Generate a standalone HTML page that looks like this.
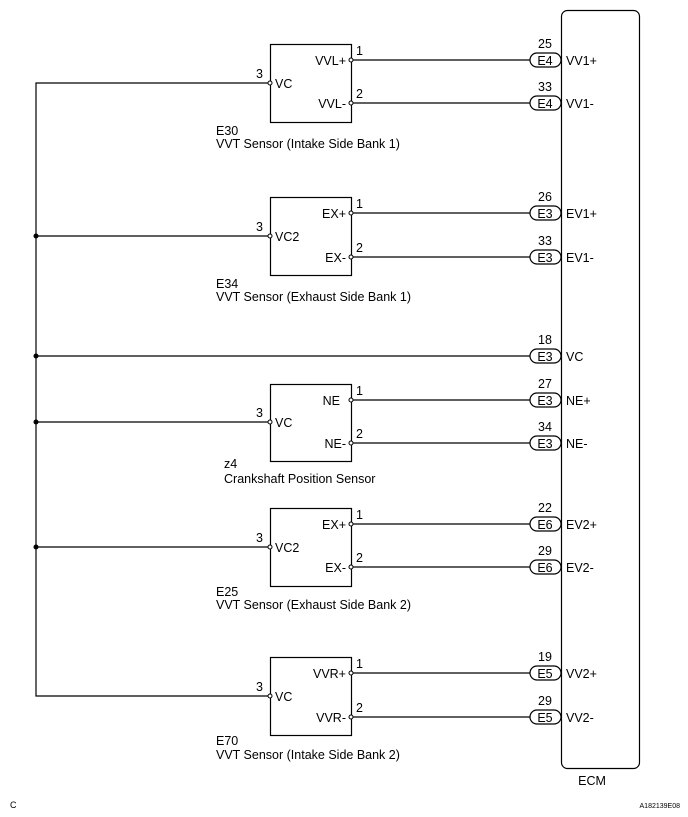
<!DOCTYPE html>
<html><head><meta charset="utf-8"><style>
html,body{margin:0;padding:0;background:#fff}
svg{display:block}
text{font-family:"Liberation Sans",Arial,sans-serif;font-size:12.5px;fill:#000}
</style></head><body>
<svg width="688" height="817" viewBox="0 0 688 817" xmlns="http://www.w3.org/2000/svg">
<g stroke="#000" stroke-width="1.2" fill="none">
<rect x="561.5" y="10.5" width="78" height="758" rx="6"/>
<polyline points="270,83 36,83 36,696 270,696"/>
<line x1="36" y1="236" x2="270" y2="236"/>
<line x1="36" y1="356" x2="530" y2="356"/>
<line x1="36" y1="422" x2="270" y2="422"/>
<line x1="36" y1="547" x2="270" y2="547"/>
<rect x="270.5" y="44.5" width="81" height="78"/>
<rect x="270.5" y="197.5" width="81" height="78"/>
<rect x="270.5" y="384.5" width="81" height="77"/>
<rect x="270.5" y="508.5" width="81" height="78"/>
<rect x="270.5" y="657.5" width="81" height="78"/>
<line x1="351" y1="60" x2="530" y2="60"/>
<line x1="351" y1="103" x2="530" y2="103"/>
<line x1="351" y1="213" x2="530" y2="213"/>
<line x1="351" y1="257" x2="530" y2="257"/>
<line x1="351" y1="400" x2="530" y2="400"/>
<line x1="351" y1="443" x2="530" y2="443"/>
<line x1="351" y1="524" x2="530" y2="524"/>
<line x1="351" y1="567" x2="530" y2="567"/>
<line x1="351" y1="673" x2="530" y2="673"/>
<line x1="351" y1="717" x2="530" y2="717"/>
<rect x="530" y="53" width="31" height="14" rx="7"/>
<rect x="530" y="96" width="31" height="14" rx="7"/>
<rect x="530" y="206" width="31" height="14" rx="7"/>
<rect x="530" y="250" width="31" height="14" rx="7"/>
<rect x="530" y="349" width="31" height="14" rx="7"/>
<rect x="530" y="393" width="31" height="14" rx="7"/>
<rect x="530" y="436" width="31" height="14" rx="7"/>
<rect x="530" y="517" width="31" height="14" rx="7"/>
<rect x="530" y="560" width="31" height="14" rx="7"/>
<rect x="530" y="666" width="31" height="14" rx="7"/>
<rect x="530" y="710" width="31" height="14" rx="7"/>
</g>
<g fill="#fff" stroke="#000" stroke-width="1">
<circle cx="351" cy="60" r="2"/><circle cx="351" cy="103" r="2"/><circle cx="270" cy="83" r="2"/>
<circle cx="351" cy="213" r="2"/><circle cx="351" cy="257" r="2"/><circle cx="270" cy="236" r="2"/>
<circle cx="351" cy="400" r="2"/><circle cx="351" cy="443" r="2"/><circle cx="270" cy="422" r="2"/>
<circle cx="351" cy="524" r="2"/><circle cx="351" cy="567" r="2"/><circle cx="270" cy="547" r="2"/>
<circle cx="351" cy="673" r="2"/><circle cx="351" cy="717" r="2"/><circle cx="270" cy="696" r="2"/>
</g>
<g fill="#000">
<circle cx="36" cy="236" r="2.5"/><circle cx="36" cy="356" r="2.5"/><circle cx="36" cy="422" r="2.5"/><circle cx="36" cy="547" r="2.5"/>
</g>
<g>
<text x="356" y="55">1</text><text x="356" y="98">2</text><text x="256" y="78">3</text>
<text x="346" y="65" text-anchor="end">VVL+</text><text x="346" y="108" text-anchor="end">VVL-</text><text x="275" y="88">VC</text>
<text x="216" y="135">E30</text><text x="216" y="148">VVT Sensor (Intake Side Bank 1)</text>

<text x="356" y="208">1</text><text x="356" y="252">2</text><text x="256" y="231">3</text>
<text x="346" y="218" text-anchor="end">EX+</text><text x="346" y="262" text-anchor="end">EX-</text><text x="275" y="241">VC2</text>
<text x="216" y="288">E34</text><text x="216" y="301">VVT Sensor (Exhaust Side Bank 1)</text>

<text x="356" y="395">1</text><text x="356" y="438">2</text><text x="256" y="417">3</text>
<text x="340" y="405" text-anchor="end">NE</text><text x="346" y="448" text-anchor="end">NE-</text><text x="275" y="427">VC</text>
<text x="224" y="468">z4</text><text x="224" y="483">Crankshaft Position Sensor</text>

<text x="356" y="519">1</text><text x="356" y="562">2</text><text x="256" y="542">3</text>
<text x="346" y="529" text-anchor="end">EX+</text><text x="346" y="572" text-anchor="end">EX-</text><text x="275" y="552">VC2</text>
<text x="216" y="596">E25</text><text x="216" y="609">VVT Sensor (Exhaust Side Bank 2)</text>

<text x="356" y="668">1</text><text x="356" y="712">2</text><text x="256" y="691">3</text>
<text x="346" y="678" text-anchor="end">VVR+</text><text x="346" y="722" text-anchor="end">VVR-</text><text x="275" y="701">VC</text>
<text x="216" y="745">E70</text><text x="216" y="759">VVT Sensor (Intake Side Bank 2)</text>
</g>
<g text-anchor="middle">
<text x="545" y="48">25</text><text x="545" y="65">E4</text>
<text x="545" y="91">33</text><text x="545" y="108">E4</text>
<text x="545" y="201">26</text><text x="545" y="218">E3</text>
<text x="545" y="245">33</text><text x="545" y="262">E3</text>
<text x="545" y="344">18</text><text x="545" y="361">E3</text>
<text x="545" y="388">27</text><text x="545" y="405">E3</text>
<text x="545" y="431">34</text><text x="545" y="448">E3</text>
<text x="545" y="512">22</text><text x="545" y="529">E6</text>
<text x="545" y="555">29</text><text x="545" y="572">E6</text>
<text x="545" y="661">19</text><text x="545" y="678">E5</text>
<text x="545" y="705">29</text><text x="545" y="722">E5</text>
<text x="592" y="785">ECM</text>
</g>
<g>
<text x="566" y="65">VV1+</text><text x="566" y="108">VV1-</text>
<text x="566" y="218">EV1+</text><text x="566" y="262">EV1-</text>
<text x="566" y="361">VC</text>
<text x="566" y="405">NE+</text><text x="566" y="448">NE-</text>
<text x="566" y="529">EV2+</text><text x="566" y="572">EV2-</text>
<text x="566" y="678">VV2+</text><text x="566" y="722">VV2-</text>
<text x="10" y="808" style="font-size:9px">C</text>
<text x="680" y="808" text-anchor="end" style="font-size:7px">A182139E08</text>
</g>
</svg>
</body></html>
